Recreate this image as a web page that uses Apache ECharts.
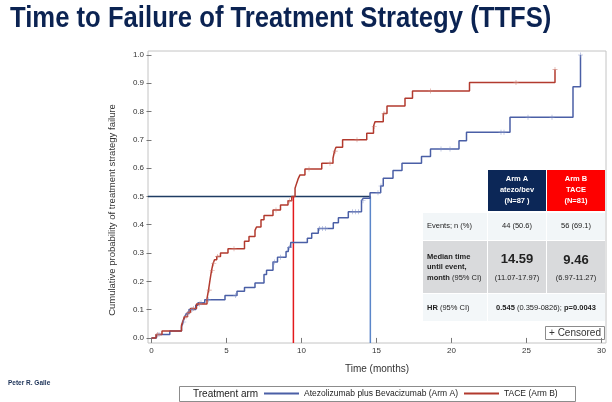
<!DOCTYPE html>
<html>
<head>
    <meta charset="utf-8">
    <title>TTFS</title>
    <script src="https://cdn.jsdelivr.net/npm/echarts@6/dist/echarts.min.js"></script>
    <style>
        html, body { margin: 0; padding: 0; background: #ffffff; }
        #chart { width: 612px; height: 402px; }
    </style>
</head>
<body>
<div id="chart"></div>
<script>
    // 数据：阶梯点 [时间(月), 累计失败概率]
    var armAName = 'Atezolizumab plus Bevacizumab (Arm A)';
    var armBName = 'TACE (Arm B)';

    var armASteps = [
        [0, 0], [0.33, 0.012], [1.22, 0.024], [2.0, 0.039], [2.1, 0.056], [2.2, 0.074],
        [2.33, 0.086], [2.5, 0.1], [2.95, 0.115], [3.1, 0.124], [3.55, 0.135], [4.9, 0.15],
        [5.7, 0.165], [6.2, 0.178], [6.9, 0.194], [7.5, 0.224], [7.67, 0.239], [8.1, 0.268],
        [8.4, 0.285], [8.97, 0.305], [9.12, 0.32], [9.28, 0.337], [10.39, 0.352], [10.68, 0.37],
        [11.12, 0.387], [12.12, 0.407], [12.46, 0.425], [13.12, 0.446], [14.0, 0.485],
        [14.12, 0.494], [14.57, 0.513], [15.28, 0.537], [15.45, 0.564], [16.1, 0.592],
        [16.7, 0.617], [18.0, 0.641], [18.6, 0.668], [20.5, 0.697], [21.0, 0.727],
        [23.9, 0.78], [28.1, 0.888], [28.6, 1.0]
    ];
    var armBSteps = [
        [0, 0], [0.3, 0.012], [0.7, 0.024], [2.0, 0.045], [2.1, 0.06], [2.2, 0.075],
        [2.4, 0.09], [2.6, 0.104], [3.0, 0.12], [3.7, 0.139], [3.8, 0.169], [3.9, 0.204],
        [4.0, 0.238], [4.1, 0.262], [4.2, 0.276], [4.35, 0.288], [4.6, 0.3], [5.1, 0.315],
        [6.2, 0.342], [6.5, 0.358], [6.9, 0.38], [7.0, 0.392], [7.3, 0.418], [7.5, 0.433],
        [8.1, 0.452], [8.6, 0.47], [9.1, 0.485], [9.35, 0.5], [9.57, 0.529], [9.68, 0.547],
        [9.79, 0.564], [9.9, 0.576], [10.23, 0.597], [11.35, 0.617], [12.1, 0.635],
        [12.2, 0.66], [12.3, 0.674], [12.74, 0.7], [14.35, 0.723], [14.8, 0.747],
        [14.9, 0.764], [15.45, 0.793], [15.7, 0.82], [16.9, 0.847], [17.4, 0.873],
        [21.2, 0.903], [26.9, 0.949]
    ];

    // 删失时间
    var armACensor = [0.5, 2.15, 2.4, 2.7, 3.3, 3.8, 5.6, 8.2, 8.6, 9.2, 11.2, 11.4, 11.6,
        13.4, 13.6, 13.8, 14.1, 15.1, 15.3, 19.3, 19.9, 23.3, 23.5, 25.1, 26.7, 28.6];
    var armBCensor = [0.4, 2.3, 2.5, 2.8, 3.2, 3.85, 4.05, 4.15, 4.4, 5.5, 8.3, 9.2, 10.5,
        11.9, 12.25, 13.7, 14.85, 15.5, 18.6, 24.3, 26.9];

    var medianA = 14.59;
    var medianB = 9.46;

    var xTicks = [0, 5, 10, 15, 20, 25, 30];
    var yTicks = [0, 0.1, 0.2, 0.3, 0.4, 0.5, 0.6, 0.7, 0.8, 0.9, 1.0];

    var xMin = -0.233, xMax = 30.3;
    var yMin = -0.018, yMax = 1.014;

    var blue = '#4a5fa6';
    var red = '#b23a2e';
    var font = "'Liberation Sans', Arial, sans-serif";

    function valueAt(steps, t) {
        var v = 0;
        steps.forEach(function (s) { if (s[0] <= t) v = s[1]; });
        return v;
    }
    function censorPoints(steps, times) {
        return times.map(function (t) { return [t, valueAt(steps, t)]; });
    }

    var plus = 'path://M0,4.4H10V5.6H0Z M4.4,0H5.6V10H4.4Z';

    // 表格
    var txt = '#222';
    function cell(x, y, w, h, fill) {
        return { type: 'rect', shape: { x: x, y: y, width: w, height: h }, style: { fill: fill }, silent: true };
    }
    function label(x, y, text, opt) {
        opt = opt || {};
        return {
            type: 'text', x: x, y: y, silent: true,
            style: {
                text: text, fill: opt.fill || txt, font: (opt.weight || 'normal') + ' ' + (opt.size || 7.5) + 'px ' + font,
                align: opt.align || 'center', verticalAlign: 'middle', rich: opt.rich
            }
        };
    }
    var rich7 = {
        b: { fontWeight: 'bold', fontSize: 7.5, fontFamily: font, fill: txt },
        n: { fontSize: 7.5, fontFamily: font, fill: txt }
    };

    var graphics = [
        // 标题（横向压缩，模拟窄体字）
        {
            type: 'text', x: 10, y: 19, scaleX: 0.885, silent: true,
            style: {
                text: 'Time to Failure of Treatment Strategy (TTFS)', fill: '#0b2352',
                font: 'bold 29px ' + font, align: 'left', verticalAlign: 'middle'
            }
        },
        cell(488, 170, 58, 41, '#0c2757'),
        cell(547, 170, 58, 41, '#fe0000'),
        cell(423, 213, 64, 27, '#f2f6f8'),
        cell(488, 213, 58, 27, '#f2f6f8'),
        cell(547, 213, 58, 27, '#f2f6f8'),
        cell(423, 241, 64, 52, '#d9dadc'),
        cell(488, 241, 58, 52, '#d9dadc'),
        cell(547, 241, 58, 52, '#d9dadc'),
        cell(423, 294, 64, 27, '#f3f7f9'),
        cell(488, 294, 117, 27, '#f3f7f9'),
        label(517, 179, 'Arm A', { fill: '#fff', weight: 'bold' }),
        label(517, 190, 'atezo/bev', { fill: '#fff', weight: 'bold' }),
        label(517, 201, '(N=87 )', { fill: '#fff', weight: 'bold' }),
        label(576, 179, 'Arm B', { fill: '#fff', weight: 'bold' }),
        label(576, 190, 'TACE', { fill: '#fff', weight: 'bold' }),
        label(576, 201, '(N=81)', { fill: '#fff', weight: 'bold' }),
        label(427, 226, 'Events; n (%)', { align: 'left' }),
        label(517, 226, '44 (50.6)'),
        label(576, 226, '56 (69.1)'),
        label(427, 257, 'Median time', { align: 'left', weight: 'bold' }),
        label(427, 267, 'until event,', { align: 'left', weight: 'bold' }),
        label(427, 278, '{b|month} {n|(95% CI)}', { align: 'left', rich: rich7 }),
        label(517, 259, '14.59', { weight: 'bold', size: 13 }),
        label(517, 278, '(11.07-17.97)'),
        label(576, 260, '9.46', { weight: 'bold', size: 13 }),
        label(576, 278, '(6.97-11.27)'),
        label(427, 308, '{b|HR} {n|(95% CI)}', { align: 'left', rich: rich7 }),
        label(546, 308, '{b|0.545} {n|(0.359-0826); }{b|p=0.0043}', { rich: rich7 }),
        {
            type: 'rect', shape: { x: 545.5, y: 326.5, width: 59, height: 13 }, silent: true,
            style: { fill: '#fff', stroke: '#8c8c8c', lineWidth: 1 }
        },
        label(575, 333, '+ Censored', { size: 10, fill: '#333' }),
        // 纵轴标题
        {
            type: 'text', x: 112, y: 210, rotation: Math.PI / 2, silent: true,
            style: {
                text: 'Cumulative probability of treatment strategy failure', fill: '#333',
                font: '9.5px ' + font, align: 'center', verticalAlign: 'middle'
            }
        },
        // 图例外框
        {
            type: 'rect', shape: { x: 179.5, y: 386.5, width: 396, height: 15 }, silent: true,
            style: { fill: 'none', stroke: '#8c8c8c', lineWidth: 1 }
        },
        label(193, 394, 'Treatment arm', { align: 'left', size: 10, fill: '#222' }),
        label(8, 383, 'Peter R. Galle', { align: 'left', size: 6.5, weight: 'bold', fill: '#1b3157' })
    ];

    var chart = echarts.init(document.getElementById('chart'));
    var option = {
        backgroundColor: '#ffffff',
        animation: false,
        grid: {
            left: 148, right: 6, top: 51, bottom: 59,
            show: true, borderColor: '#c4c4c4', borderWidth: 1, backgroundColor: 'transparent'
        },
        legend: {
            data: [armAName, armBName],
            left: 264, top: 389, padding: 0,
            icon: 'rect', itemWidth: 35, itemHeight: 2, itemGap: 6,
            textStyle: { fontSize: 8.5, color: '#222', fontFamily: font }
        },
        xAxis: {
            type: 'value', min: xMin, max: xMax,
            name: 'Time (months)', nameLocation: 'middle', nameGap: 21,
            nameTextStyle: { fontSize: 10, color: '#333', fontFamily: font },
            axisLine: { show: false },
            axisTick: { show: true, length: 5, customValues: xTicks, lineStyle: { color: '#777' } },
            axisLabel: { customValues: xTicks, fontSize: 8, color: '#333', margin: 4, fontFamily: font },
            splitLine: { show: false }
        },
        yAxis: {
            type: 'value', min: yMin, max: yMax,
            axisLine: { show: false },
            axisTick: { show: true, length: 5, customValues: yTicks, lineStyle: { color: '#777' } },
            axisLabel: {
                customValues: yTicks, fontSize: 8, color: '#333', margin: 4, fontFamily: font,
                formatter: function (v) { return v.toFixed(1); }
            },
            splitLine: { show: false }
        },
        graphic: graphics,
        series: [
            {
                name: 'median', type: 'line', symbol: 'none', silent: true, z: 1,
                data: [[xMin, 0.5], [medianA, 0.5]],
                lineStyle: { color: '#1f3c63', width: 1.5 }
            },
            {
                name: 'medianB', type: 'line', symbol: 'none', silent: true, z: 1,
                data: [[medianB, yMin], [medianB, 0.5]],
                lineStyle: { color: '#e3191c', width: 1.5 }
            },
            {
                name: 'medianA', type: 'line', symbol: 'none', silent: true, z: 1,
                data: [[medianA, yMin], [medianA, 0.5]],
                lineStyle: { color: '#5b86c9', width: 1.5 }
            },
            {
                name: armAName, type: 'line', step: 'end', symbol: 'none', z: 3,
                data: armASteps, color: blue,
                lineStyle: { color: blue, width: 1.5 }
            },
            {
                name: armBName, type: 'line', step: 'end', symbol: 'none', z: 3,
                data: armBSteps, color: red,
                lineStyle: { color: red, width: 1.5 }
            },
            {
                name: 'censorA', type: 'scatter', symbol: plus, symbolSize: 5, z: 4, silent: true,
                data: censorPoints(armASteps, armACensor),
                itemStyle: { color: '#7f8fc4' }
            },
            {
                name: 'censorB', type: 'scatter', symbol: plus, symbolSize: 5, z: 4, silent: true,
                data: censorPoints(armBSteps, armBCensor),
                itemStyle: { color: '#cc7d72' }
            }
        ]
    };
    chart.setOption(option);

    window.onresize = function () {
        chart.resize();
    };
</script>
</body>
</html>
